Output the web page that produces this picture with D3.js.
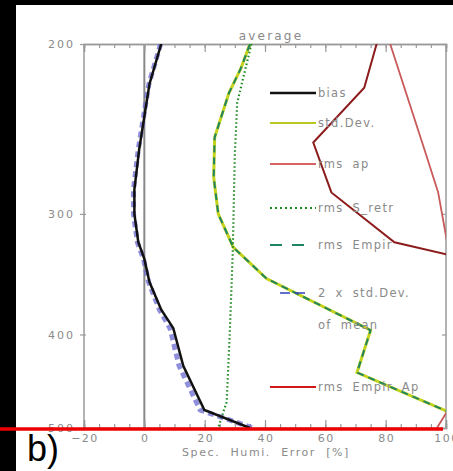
<!DOCTYPE html>
<html><head><meta charset="utf-8">
<script src="https://cdn.jsdelivr.net/npm/d3@7"></script>
<style>
html,body{margin:0;padding:0;background:#000;overflow:hidden;}
svg{display:block;}
text{font-family:"DejaVu Sans",sans-serif;fill:#8a8a8a;white-space:pre;}
</style></head>
<body>
<script>
// ---- data (pressure [hPa] vs error [%]) ----
const biasP   = [200,220,257,283,300,321,334,353,377,394,431,479,500];
const biasV   = [5.6,1.7,-1.7,-3.3,-3.3,-2,0,1.7,5.6,9.6,12.9,19.9,35];
const twoSdP  = [200,220,257,283,300,321,334,353,377,394,431,479,500];
const twoSdV  = [5.4,1.5,-2,-3.6,-3.6,-2.3,-0.3,1.4,5,8.5,11.5,18.5,36];
const stdP    = [200,212,225,250,275,300,325,350,396,438,480,500];
const stdV    = [35,32,28,23.3,23,24.5,29.5,40.5,75,70.5,100,110];
const empP    = [200,212,225,250,275,300,325,350,396,438,480,500];
const empV    = [35,32,28,23.3,23,24.5,29.5,40.5,75,70.5,100,110];
const sretrP  = [200,230,260,330,400,470,480,500];
const sretrV  = [35.5,30.8,30,29.3,28.3,27.3,26.3,24.5];
const rmsApP  = [200,257,285,320,350,420,480,500];
const rmsApV  = [81.5,92.8,97.4,100.3,106,110,100.5,97];
const empApP  = [200,222,253,285,321,350];
const empApV  = [77,72.9,56,62,82.9,135];
const xTicks  = [-20,0,20,40,60,80,100];
const yTicks  = [200,300,400,500];
const legendItems = ["bias","std.Dev.","rms ap","rms S_retr","rms Empir","2 x std.Dev.","of mean","rms Empir Ap"];

const W=453,H=471;
const svg=d3.select("body").append("svg").attr("width",W).attr("height",H);
svg.append("rect").attr("x",16).attr("y",5).attr("width",W-16).attr("height",H-5).attr("fill","#fff");

const x=d3.scaleLinear().domain([-20,100]).range([84,446]);
const y=d3.scaleLog().domain([200,500]).range([44,428]);

svg.append("defs").append("clipPath").attr("id","clip")
  .append("rect").attr("x",x(-20)).attr("y",y(200)).attr("width",x(100)-x(-20)).attr("height",y(500)-y(200));

// zero line
svg.append("line").attr("x1",x(0)).attr("x2",x(0)).attr("y1",y(200)).attr("y2",y(500))
  .attr("stroke","#888").attr("stroke-width",2);

// axes
const axCol="#9a9a9a";
const topAx=svg.append("g").attr("transform",`translate(0,${y(200)})`)
  .call(d3.axisBottom(x).tickValues(d3.range(-20,101,5)).tickSize(4).tickFormat(""));
const topMaj=svg.append("g").attr("transform",`translate(0,${y(200)})`)
  .call(d3.axisBottom(x).tickValues(xTicks).tickSize(8).tickFormat(""));
const botAx=svg.append("g").attr("transform",`translate(0,${y(500)})`)
  .call(d3.axisTop(x).tickValues(d3.range(-20,101,5)).tickSize(4).tickFormat(""));
const botMaj=svg.append("g").attr("transform",`translate(0,${y(500)})`)
  .call(d3.axisTop(x).tickValues(xTicks).tickSize(8).tickFormat(""));
const leftAx=svg.append("g").attr("transform",`translate(${x(-20)},0)`)
  .call(d3.axisLeft(y).tickValues(yTicks).tickSize(4).tickPadding(5).tickFormat(d3.format("d")));
const rightAx=svg.append("g").attr("transform",`translate(${x(100)},0)`)
  .call(d3.axisLeft(y).tickValues(yTicks).tickSize(4).tickFormat(""));
[topAx,topMaj,botAx,botMaj,leftAx,rightAx].forEach(g=>{
  g.selectAll("path").attr("stroke",axCol).attr("stroke-width",1.5);
  g.selectAll("line").attr("stroke",axCol).attr("stroke-width",1.2);
  g.selectAll("text").attr("fill","#8a8a8a").style("font-size","11px").style("letter-spacing","2px");
});
leftAx.selectAll(".tick line").attr("x1",2);
leftAx.select("path").remove();
rightAx.select("path").remove();
svg.append("line").attr("x1",x(-20)).attr("x2",x(-20)).attr("y1",y(200)).attr("y2",y(500)).attr("stroke",axCol).attr("stroke-width",1.5);
svg.append("line").attr("x1",x(100)).attr("x2",x(100)).attr("y1",y(200)).attr("y2",y(500)).attr("stroke",axCol).attr("stroke-width",1.5);

// x tick labels
svg.append("g").selectAll("text").data(xTicks).join("text")
  .attr("x",d=>x(d)+1).attr("y",y(500)+14).attr("text-anchor","middle").style("font-size","11px")
  .style("letter-spacing","1.5px")
  .text(d=>d<0?"\u2212"+Math.abs(d):d);

svg.append("text").attr("x",266).attr("y",456).attr("text-anchor","middle").style("font-size","11px")
  .style("letter-spacing","1.6px").text("Spec.  Humi.  Error  [%]");
svg.append("text").attr("x",271).attr("y",40).attr("text-anchor","middle").style("font-size","12px")
  .style("letter-spacing","2.2px").text("average");

// data lines
const plot=svg.append("g").attr("clip-path","url(#clip)");
const line=d3.line().x(d=>x(d[1])).y(d=>y(d[0]));
const zip=(p,v)=>p.map((pp,i)=>[pp,v[i]]);

plot.append("path").datum(zip(rmsApP,rmsApV)).attr("d",line).attr("fill","none")
  .attr("stroke","#c85a5a").attr("stroke-width",1.8);
plot.append("path").datum(zip(empApP,empApV)).attr("d",line).attr("fill","none")
  .attr("stroke","#8c1c1c").attr("stroke-width",2);
plot.append("path").datum(zip(stdP,stdV)).attr("d",line).attr("fill","none")
  .attr("stroke","#c4d21c").attr("stroke-width",3);
plot.append("path").datum(zip(empP,empV)).attr("d",line).attr("fill","none")
  .attr("stroke","#1f8560").attr("stroke-width",2).attr("stroke-dasharray","7,5");
plot.append("path").datum(zip(sretrP,sretrV)).attr("d",line).attr("fill","none")
  .attr("stroke","#1e8a1e").attr("stroke-width",2.2).attr("stroke-dasharray","1.5,2.5");
plot.append("path").datum(zip(twoSdP,twoSdV)).attr("d",line).attr("fill","none")
  .attr("stroke","#6a6ad0").attr("stroke-width",5).attr("stroke-opacity",0.75).attr("stroke-dasharray","6,4");
plot.append("path").datum(zip(biasP,biasV)).attr("d",line).attr("fill","none")
  .attr("stroke","#111").attr("stroke-width",2.5);

// legend
const legY=[93,123,164,208,245,293,325,387];
const lg=svg.append("g");
const seg=(i,col,w,dash)=>lg.append("line").attr("x1",270).attr("x2",316).attr("y1",legY[i]).attr("y2",legY[i])
  .attr("stroke",col).attr("stroke-width",w).attr("stroke-dasharray",dash||null);
seg(0,"#111",2.5);
seg(1,"#b8c820",1.8);
seg(2,"#c83030",1.5);
seg(3,"#1e8a1e",2,"2,3");
lg.append("line").attr("x1",270).attr("x2",305).attr("y1",legY[4]).attr("y2",legY[4]).attr("stroke","#1f8560").attr("stroke-width",2).attr("stroke-dasharray","12,10");
lg.append("line").attr("x1",280).attr("x2",305).attr("y1",legY[5]).attr("y2",legY[5]).attr("stroke","#3040c0").attr("stroke-width",1.5).attr("stroke-dasharray","10,5");
seg(7,"#d01818",2);
lg.selectAll("text").data(legendItems).join("text")
  .attr("x",318).attr("y",(d,i)=>legY[i]+4).style("font-size","11.5px").style("letter-spacing","1.3px")
  .style("word-spacing","4px").text(d=>d);

// red bottom line and label
svg.append("line").attr("x1",0).attr("x2",443).attr("y1",y(500)+1).attr("y2",y(500)+1)
  .attr("stroke","#ee0000").attr("stroke-width",3.5);
svg.append("text").attr("x",27).attr("y",461).style("font-family","'Liberation Sans',Arial,sans-serif")
  .style("font-size","36px").style("fill","#000").text("b)");
</script>
</body></html>
